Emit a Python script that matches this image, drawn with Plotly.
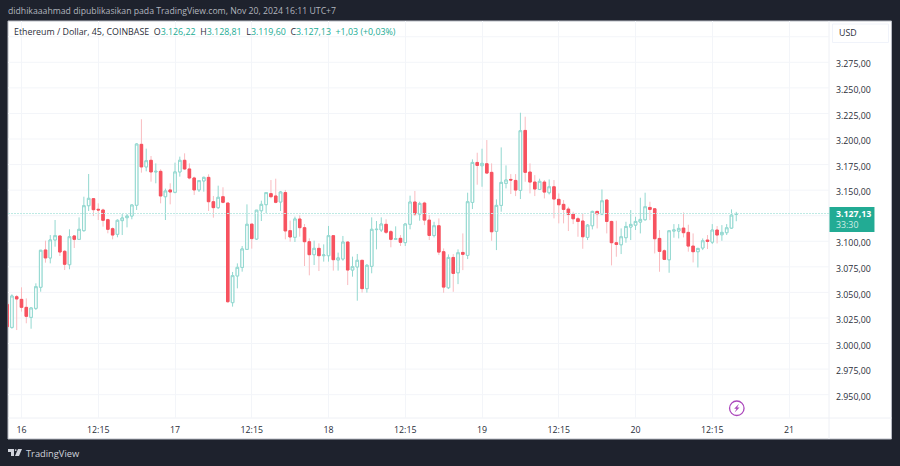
import plotly.graph_objects as go

# bar index 0 is the first bar of day 16; bars -3..149
open_ = [3038.3,3015.8,3045.8,3043.2,3035.4,3025.6,3034.4,3055.0,3091.5,3083.7,
 3101.3,3105.2,3090.2,3077.1,3105.2,3101.9,3110.4,3134.8,3141.7,3131.3,
 3130.6,3121.1,3112.3,3106.8,3120.2,3123.1,3124.7,3135.2,3194.8,3172.7,
 3179.2,3167.8,3168.4,3143.6,3150.2,3147.9,3167.8,3179.2,3170.7,3161.9,
 3150.2,3159.0,3162.5,3138.7,3132.9,3143.6,3137.4,3040.0,3066.1,3074.5,
 3092.1,3116.8,3102.2,3129.9,3135.8,3146.6,3144.3,3138.4,3147.6,3110.4,
 3103.9,3121.8,3113.3,3099.6,3086.9,3093.1,3085.9,3085.9,3105.5,3081.7,
 3082.7,3099.3,3071.9,3074.9,3081.4,3053.7,3075.5,3111.4,3111.0,3116.6,
 3109.4,3101.9,3102.9,3098.7,3116.6,3138.4,3126.6,3137.4,3120.7,3105.7,
 3115.2,3089.8,3054.6,3084.2,3069.2,3089.1,3086.2,3138.0,3177.1,3173.9,
 3175.8,3167.4,3109.7,3135.1,3156.6,3160.5,3159.5,3149.8,3208.4,3167.7,
 3157.9,3150.7,3157.9,3147.5,3153.3,3141.0,3136.1,3131.5,3126.6,3122.0,
 3119.8,3103.8,3115.2,3129.2,3126.6,3140.3,3119.4,3098.6,3096.6,3103.5,
 3113.9,3115.8,3118.8,3121.1,3133.1,3131.8,3102.8,3090.7,3081.9,3110.0,
 3110.0,3112.9,3108.7,3095.3,3089.8,3093.4,3101.2,3099.2,3111.0,3106.4,
 3108.4,3112.9,3126.22]
high = [3041.0,3048.1,3047.5,3055.0,3044.2,3035.4,3058.9,3091.5,3100.6,3106.1,
 3120.8,3105.5,3091.5,3111.7,3106.1,3123.4,3143.6,3165.8,3142.0,3137.1,
 3131.9,3122.1,3113.6,3121.5,3126.7,3126.7,3135.8,3195.8,3219.3,3190.6,
 3183.4,3176.2,3170.4,3151.5,3156.7,3176.9,3182.8,3186.0,3176.2,3163.2,
 3159.9,3163.2,3165.5,3144.3,3154.4,3152.8,3137.6,3070.0,3078.4,3095.4,
 3136.1,3116.9,3130.6,3139.7,3148.2,3159.9,3161.2,3149.2,3150.2,3120.2,
 3124.1,3125.4,3116.9,3102.9,3100.6,3098.0,3097.0,3115.0,3106.1,3088.9,
 3105.2,3100.0,3085.0,3087.6,3081.7,3077.8,3123.4,3119.8,3123.4,3121.5,
 3111.0,3114.6,3106.1,3117.6,3144.6,3149.2,3138.7,3138.7,3125.6,3119.1,
 3122.4,3093.0,3087.2,3087.5,3092.1,3107.7,3147.5,3180.1,3186.6,3190.5,
 3199.0,3176.2,3141.0,3191.8,3174.2,3165.7,3165.7,3225.7,3221.8,3176.2,
 3164.7,3161.2,3159.9,3160.5,3159.9,3146.8,3140.3,3133.8,3128.9,3124.0,
 3127.3,3116.8,3129.9,3129.9,3150.7,3141.0,3120.1,3120.1,3112.6,3119.1,
 3130.5,3124.0,3142.6,3147.5,3138.7,3132.2,3111.0,3092.1,3111.0,3116.8,
 3116.8,3128.2,3116.2,3107.7,3093.7,3102.8,3106.1,3116.8,3114.9,3115.8,
 3116.8,3131.2,3128.81]
low = [3013.2,3014.5,3013.2,3031.2,3019.8,3014.5,3032.8,3050.7,3079.1,3078.4,
 3094.7,3085.6,3071.9,3072.6,3093.4,3101.3,3109.4,3129.6,3124.7,3120.8,
 3114.3,3107.8,3101.9,3103.9,3106.1,3113.6,3121.5,3130.6,3167.1,3168.4,
 3158.3,3156.7,3137.1,3120.8,3136.1,3146.9,3163.2,3169.7,3160.6,3145.3,
 3148.2,3148.5,3129.6,3123.1,3131.6,3137.1,3039.9,3036.1,3054.0,3070.3,
 3091.5,3092.8,3101.3,3119.8,3127.3,3142.0,3137.1,3129.6,3101.9,3099.6,
 3099.3,3104.5,3075.8,3066.7,3076.8,3070.9,3080.1,3080.1,3071.3,3071.3,
 3081.0,3057.2,3065.4,3041.9,3049.8,3049.8,3068.7,3092.1,3109.1,3107.1,
 3094.1,3101.3,3095.4,3095.4,3111.7,3124.7,3120.1,3115.8,3101.2,3103.8,
 3086.5,3049.7,3053.3,3050.6,3058.1,3071.8,3082.6,3131.5,3155.3,3153.3,
 3165.7,3100.5,3091.4,3128.9,3151.7,3146.2,3144.2,3141.3,3158.2,3146.8,
 3144.2,3150.1,3141.9,3145.8,3122.4,3117.5,3117.5,3110.0,3116.8,3104.4,
 3092.7,3101.2,3111.6,3112.6,3125.6,3107.7,3076.4,3084.9,3087.5,3098.6,
 3101.2,3111.0,3107.7,3120.1,3120.7,3088.1,3070.2,3081.6,3069.2,3103.5,
 3102.8,3103.8,3089.8,3079.3,3074.4,3091.4,3092.4,3097.3,3097.9,3100.5,
 3106.1,3112.3,3119.60]
close = [3016.5,3046.5,3043.6,3035.4,3026.6,3034.8,3055.6,3091.2,3083.7,3101.3,
 3105.5,3089.5,3077.5,3104.5,3101.9,3111.7,3134.8,3142.0,3130.9,3130.6,
 3120.5,3111.7,3106.1,3120.5,3122.8,3124.7,3135.5,3195.1,3172.7,3178.8,
 3167.8,3168.4,3144.3,3149.2,3148.2,3167.8,3179.2,3170.7,3161.9,3150.2,
 3159.3,3162.5,3138.7,3132.9,3143.0,3138.1,3040.9,3066.4,3074.5,3092.5,
 3116.6,3102.6,3130.4,3136.1,3147.6,3143.6,3138.1,3148.2,3110.1,3104.2,
 3121.8,3113.3,3099.6,3086.9,3093.1,3085.9,3086.6,3105.5,3082.0,3083.7,
 3099.3,3071.9,3075.2,3081.4,3053.7,3076.5,3111.7,3111.7,3116.9,3108.8,
 3101.9,3102.6,3099.0,3116.9,3138.4,3126.7,3137.0,3120.7,3105.7,3115.2,
 3089.4,3055.2,3084.2,3068.6,3088.8,3087.2,3138.7,3177.1,3174.2,3176.2,
 3166.7,3109.3,3135.1,3157.6,3159.9,3159.9,3150.1,3208.1,3167.4,3157.9,
 3151.1,3158.6,3148.1,3153.3,3141.3,3135.7,3131.2,3126.3,3122.0,3119.4,
 3104.4,3115.8,3129.2,3126.9,3139.6,3119.4,3098.6,3096.9,3104.4,3114.5,
 3116.5,3119.4,3121.4,3133.8,3131.2,3102.5,3090.1,3082.3,3110.3,3111.0,
 3112.6,3108.4,3095.3,3089.8,3093.0,3100.5,3099.9,3111.0,3106.1,3108.7,
 3113.2,3125.6,3127.13]
bars = list(range(-3, 150))

tick_bars = [0, 16, 32, 48, 64, 80, 96, 112, 128, 144, 160]
tick_labels = ["16", "12:15", "17", "12:15", "18", "12:15", "19", "12:15", "20", "12:15", "21"]
price_ticks = [2950, 2975, 3000, 3025, 3050, 3075, 3100, 3150, 3175, 3200, 3225, 3250, 3275]
grid_prices = [2950 + 25 * k for k in range(15)]
last_price = close[-1]

BG = "#1e222d"
TEAL_LINE = "#93d8d0"
RED = "#f7525f"
RED_WICK = "#f9bcc0"
LEFT, RIGHT, TOP, BOTTOM = 8, 829.5, 21, 418
FONT = "Open Sans"
TXT = "#2a2e39"
SIZE = 8.8


def fx(px):
    return (px - LEFT) / (RIGHT - LEFT)


def fy(py):
    return (BOTTOM - py) / (BOTTOM - TOP)


body_high = [max(o, c) for o, c in zip(open_, close)]
body_low = [min(o, c) for o, c in zip(open_, close)]

fig = go.Figure()
fig.add_trace(go.Candlestick(
    x=bars, open=open_, high=high, low=low, close=close, whiskerwidth=0,
    increasing=dict(line=dict(color=TEAL_LINE, width=1), fillcolor="#ffffff"),
    decreasing=dict(line=dict(color=RED_WICK, width=1), fillcolor=RED),
    showlegend=False, hoverinfo="skip"))
fig.add_trace(go.Candlestick(
    x=bars, open=open_, high=body_high, low=body_low, close=close, whiskerwidth=0,
    increasing=dict(line=dict(color=TEAL_LINE, width=1), fillcolor="#ffffff"),
    decreasing=dict(line=dict(color=RED, width=1), fillcolor=RED),
    showlegend=False, hoverinfo="skip"))


def paper_path(points):
    return "M " + " L ".join(f"{fx(x):.5f},{fy(y):.5f}" for x, y in points) + " Z"


shapes = [
    # chart panel
    dict(type="rect", xref="paper", yref="paper", x0=fx(8), x1=fx(892), y0=fy(439), y1=fy(21),
         fillcolor="#ffffff", line=dict(color="#b8bbc4", width=1), layer="below"),
    # axis separators
    dict(type="line", xref="paper", yref="paper", x0=fx(829.5), x1=fx(829.5), y0=fy(439), y1=fy(21),
         line=dict(color="#eef0f5", width=1), layer="below"),
    dict(type="line", xref="paper", yref="paper", x0=fx(8), x1=fx(892), y0=fy(418), y1=fy(418),
         line=dict(color="#eef0f5", width=1), layer="below"),
    # last price line
    dict(type="line", xref="paper", yref="y", x0=0, x1=1, y0=last_price, y1=last_price,
         line=dict(color="#bdeae4", width=1, dash="2px,1px"), layer="above"),
    # last price tag
    dict(type="rect", xref="paper", yref="paper", x0=fx(830), x1=fx(875), y0=fy(232), y1=fy(207),
         fillcolor="#22ab94", line=dict(width=0), layer="above"),
    # USD box
    dict(type="rect", xref="paper", yref="paper", x0=fx(833), x1=fx(889), y0=fy(42.5), y1=fy(24),
         fillcolor="#ffffff", line=dict(color="#f0f3fa", width=1), layer="below"),
    # lightning badge
    dict(type="circle", xref="paper", yref="paper", x0=fx(730), x1=fx(744.5), y0=fy(415.5), y1=fy(401),
         fillcolor="#ffffff", line=dict(color="#ab47bc", width=1.3), layer="above"),
    dict(type="path", xref="paper", yref="paper",
         path=paper_path([(739.5, 403.8), (734.6, 408.8), (737, 408.8), (735, 412.6), (740, 407.4), (737.6, 407.4)]),
         fillcolor="#ab47bc", line=dict(width=0), layer="above"),
    # TradingView mark
    dict(type="path", xref="paper", yref="paper",
         path=paper_path([(8, 449), (14, 449), (14, 456), (11, 456), (11, 452), (8, 452)]),
         fillcolor="#d1d4dc", line=dict(width=0), layer="above"),
    dict(type="circle", xref="paper", yref="paper", x0=fx(14.8), x1=fx(16.6), y0=fy(451), y1=fy(449.2),
         fillcolor="#d1d4dc", line=dict(width=0), layer="above"),
    dict(type="path", xref="paper", yref="paper",
         path=paper_path([(18, 449), (22, 449), (19, 456), (15, 456)]),
         fillcolor="#d1d4dc", line=dict(width=0), layer="above"),
]


def note(px, py, text, size, color, anchor="left", **kw):
    return dict(xref="paper", yref="paper", x=fx(px), y=fy(py), text=text, showarrow=False,
                xanchor=anchor, yanchor="middle", align=anchor, borderpad=0,
                font=dict(family=FONT, size=size, color=color), **kw)


T = "#22ab94"
legend_text = (
    'Ethereum / Dollar, 45, COINBASE  '
    f'O<span style="color:{T}">3.126,22</span>  H<span style="color:{T}">3.128,81</span>  '
    f'L<span style="color:{T}">3.119,60</span>  C<span style="color:{T}">3.127,13</span>  '
    f'<span style="color:{T}">+1,03 (+0,03%)</span>'
)

annotations = [
    note(7, 11, "didhikaaahmad dipublikasikan pada TradingView.com, Nov 20, 2024 16:11 UTC+7", 8.7, "#b2b5be"),
    note(13.5, 32, legend_text, 8.85, TXT),
    note(839, 33, "USD", SIZE, TXT),
    note(836, 219.5, '<b>3.127,13</b><br><span style="color:#cfeee8">33:30</span>', SIZE, "#ffffff"),
    note(25, 453, "TradingView", 9.3, "#d1d4dc"),
]

fig.update_layout(
    width=900, height=466,
    margin=dict(l=LEFT, r=900 - RIGHT, t=TOP, b=466 - BOTTOM, pad=0),
    paper_bgcolor=BG, plot_bgcolor="#ffffff",
    separators=",.",
    boxmode="overlay", boxgap=0.25,
    showlegend=False, dragmode=False,
    font=dict(family=FONT, size=SIZE, color=TXT),
    shapes=shapes, annotations=annotations,
    xaxis=dict(range=[-2.8125, 168.33], rangeslider=dict(visible=False),
               tickmode="array", tickvals=tick_bars, ticktext=tick_labels,
               showgrid=True, gridcolor="#f3f5f9", gridwidth=1, zeroline=False, showline=False,
               ticks="", ticklabelstandoff=5, tickfont=dict(family=FONT, size=SIZE, color=TXT)),
    yaxis=dict(range=[2927.2, 3315.4], side="right",
               tickmode="array", tickvals=price_ticks, tickformat=",.2f",
               showgrid=False, zeroline=False, showline=False,
               ticks="", ticklabelstandoff=6, ticklabelshift=2,
               tickfont=dict(family=FONT, size=SIZE, color=TXT)),
)
for p in grid_prices:
    fig.add_shape(type="line", xref="paper", yref="y", x0=0, x1=1, y0=p, y1=p,
                  line=dict(color="#f3f5f9", width=1), layer="below")

fig.write_html("out.html", config=dict(displayModeBar=False),
               post_script="document.body.style.margin='0';document.body.style.overflow='hidden';")
